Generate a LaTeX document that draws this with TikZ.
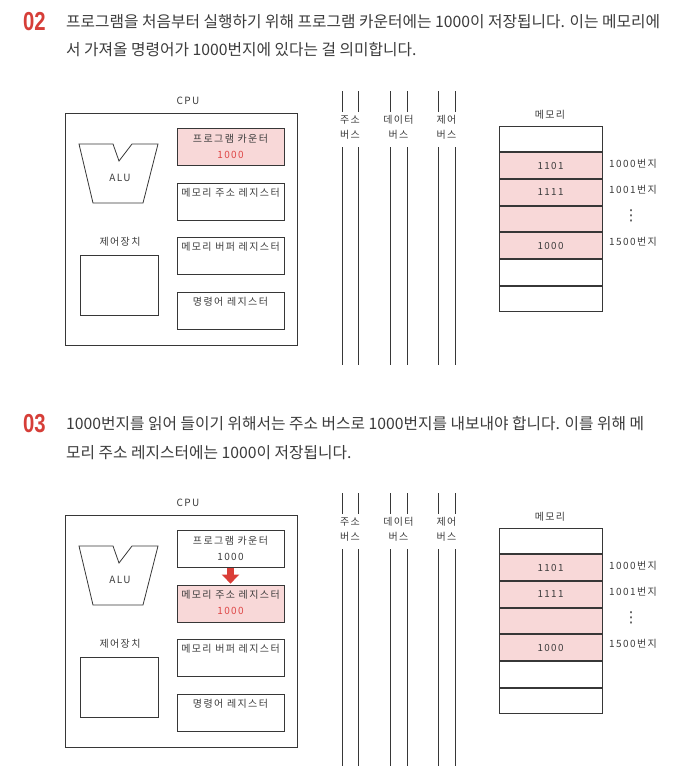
\documentclass[tikz,border=0pt]{standalone}
\usepackage{fontspec}
\usetikzlibrary{arrows.meta}
\setmainfont{Noto Sans CJK KR}
\newfontfamily\bodyf{Noto Sans CJK KR}
\newfontfamily\handf[LetterSpace=14]{Noto Sans CJK KR}
\newfontfamily\dotf{DejaVu Sans}
\newfontfamily\stepf[FakeStretch=0.78]{Liberation Sans}
\definecolor{linec}{RGB}{55,55,55}
\definecolor{txtc}{RGB}{60,60,60}
\definecolor{pinkc}{RGB}{248,216,216}
\definecolor{redt}{RGB}{222,70,70}
\definecolor{stepred}{RGB}{214,62,56}
\definecolor{arrowred}{RGB}{218,62,56}
\tikzset{
  box/.style={draw=linec, line width=0.8pt, inner sep=0pt},
  reg/.style={box, minimum width=107pt, minimum height=37pt},
  cell/.style={box, minimum width=103pt, minimum height=25.86pt, font=\handf\fontsize{9.8}{10}\selectfont, text=txtc},
  lab/.style={font=\handf\fontsize{10}{11}\selectfont, text=txtc, inner sep=0pt},
  redlab/.style={lab, text=redt},
  dots/.style={font=\dotf\fontsize{15}{15}\selectfont, text=txtc, inner sep=0pt},
  para/.style={font=\bodyf\fontsize{15.75}{17}\selectfont, text=txtc, anchor=west, inner sep=0pt},
  stepno/.style={font=\stepf\bfseries\fontsize{26}{27}\selectfont, text=stepred, anchor=west, inner sep=0pt},
  busline/.style={draw=linec, line width=0.8pt},
  bigarrow/.style={draw=arrowred, line width=6.5pt, -{Triangle[width=17pt,length=9pt]}},
}
\begin{document}
\begin{tikzpicture}[x=1pt,y=-1pt]
\useasboundingbox (0,0) rectangle (699,782);
\fill[white] (0,0) rectangle (699,782);

% ---------- Stage 02 ----------
\node[stepno] (n02) at (23,22) {02};
\node[para] (t02a) at (66,22) {프로그램을 처음부터 실행하기 위해 프로그램 카운터에는 1000이 저장됩니다. 이는 메모리에};
\node[para] (t02b) at (66,50) {서 가져올 명령어가 1000번지에 있다는 걸 의미합니다.};

\begin{scope}
  \node[lab] (acpul) at (188,101) {CPU};
  \node[box, minimum width=232pt, minimum height=232pt] (acpu) at (181.5,229) {};
  \node[reg, fill=pinkc] (apc) at (230.5,146.5) {};
  \node[lab] (apct) at ([yshift=-11pt]apc.north) {프로그램 카운터};
  \node[redlab] (apcv) at ([yshift=-27pt]apc.north) {1000};
  \node[reg] (amar) at (230.5,201.5) {};
  \node[lab] (amart) at ([yshift=-10pt]amar.north) {메모리 주소 레지스터};
  \node[reg] (ambr) at (230.5,256) {};
  \node[lab] (ambrt) at ([yshift=-10pt]ambr.north) {메모리 버퍼 레지스터};
  \node[reg] (air) at (230.5,310.5) {};
  \node[lab] (airt) at ([yshift=-10pt]air.north) {명령어 레지스터};
  \draw[draw=linec, line width=0.8pt] (79,144) -- (113,144) -- (119,161) -- (132,144) -- (158,144) -- (143,203) -- (93,203) -- cycle;
  \node[lab] (aalu) at (120,178) {ALU};
  \node[lab] (acul) at (120,242) {제어장치};
  \node[box, minimum width=78pt, minimum height=60pt] (acu) at (119,285) {};
  % buses
  \foreach \x in {342,358,390,407,438,455} {
    \draw[busline] (\x,91) -- (\x,112);
    \draw[busline] (\x,147) -- (\x,365);
  }
  \node[lab] (ab1a) at (350,120) {주소};
  \node[lab] (ab1b) at (350,135) {버스};
  \node[lab] (ab2a) at (398.5,120) {데이터};
  \node[lab] (ab2b) at (398.5,135) {버스};
  \node[lab] (ab3a) at (446.5,120) {제어};
  \node[lab] (ab3b) at (446.5,135) {버스};
  % memory
  \node[lab] (ameml) at (550,115) {메모리};
  \node[cell] (am1) at (550.5,138.9) {};
  \node[cell, fill=pinkc, anchor=north] (am2) at (am1.south) {1101};
  \node[cell, fill=pinkc, anchor=north] (am3) at (am2.south) {1111};
  \node[cell, fill=pinkc, anchor=north] (am4) at (am3.south) {};
  \node[cell, fill=pinkc, anchor=north] (am5) at (am4.south) {1000};
  \node[cell, anchor=north] (am6) at (am5.south) {};
  \node[cell, anchor=north] (am7) at (am6.south) {};
  \node[lab] (aad1) at (633,164) {1000번지};
  \node[lab] (aad2) at (633,190) {1001번지};
  \node[dots] (aad3) at (631,216) {⋮};
  \node[lab] (aad4) at (633,242) {1500번지};
\end{scope}

% ---------- Stage 03 ----------
\node[stepno] (n03) at (23,424) {03};
\node[para] (t03a) at (66,424) {1000번지를 읽어 들이기 위해서는 주소 버스로 1000번지를 내보내야 합니다. 이를 위해 메};
\node[para] (t03b) at (66,453) {모리 주소 레지스터에는 1000이 저장됩니다.};

\begin{scope}[shift={(0,402)}]
  \node[lab] (bcpul) at (188,101) {CPU};
  \node[box, minimum width=232pt, minimum height=232pt] (bcpu) at (181.5,229) {};
  \node[reg] (bpc) at (230.5,146.5) {};
  \node[lab] (bpct) at ([yshift=-11pt]bpc.north) {프로그램 카운터};
  \node[lab] (bpcv) at ([yshift=-27pt]bpc.north) {1000};
  \node[reg, fill=pinkc] (bmar) at (230.5,201.5) {};
  \node[lab] (bmart) at ([yshift=-10pt]bmar.north) {메모리 주소 레지스터};
  \node[redlab] (bmarv) at ([yshift=-26pt]bmar.north) {1000};
  \draw[bigarrow] ([yshift=-1pt]bpc.south) -- ([yshift=1pt]bmar.north);
  \node[reg] (bmbr) at (230.5,256) {};
  \node[lab] (bmbrt) at ([yshift=-10pt]bmbr.north) {메모리 버퍼 레지스터};
  \node[reg] (bir) at (230.5,310.5) {};
  \node[lab] (birt) at ([yshift=-10pt]bir.north) {명령어 레지스터};
  \draw[draw=linec, line width=0.8pt] (79,144) -- (113,144) -- (119,161) -- (132,144) -- (158,144) -- (143,203) -- (93,203) -- cycle;
  \node[lab] (balu) at (120,178) {ALU};
  \node[lab] (bcul) at (120,242) {제어장치};
  \node[box, minimum width=78pt, minimum height=60pt] (bcu) at (119,285) {};
  \foreach \x in {342,358,390,407,438,455} {
    \draw[busline] (\x,91) -- (\x,112);
    \draw[busline] (\x,147) -- (\x,364);
  }
  \node[lab] (bb1a) at (350,120) {주소};
  \node[lab] (bb1b) at (350,135) {버스};
  \node[lab] (bb2a) at (398.5,120) {데이터};
  \node[lab] (bb2b) at (398.5,135) {버스};
  \node[lab] (bb3a) at (446.5,120) {제어};
  \node[lab] (bb3b) at (446.5,135) {버스};
  \node[lab] (bmeml) at (550,115) {메모리};
  \node[cell] (bm1) at (550.5,138.9) {};
  \node[cell, fill=pinkc, anchor=north] (bm2) at (bm1.south) {1101};
  \node[cell, fill=pinkc, anchor=north] (bm3) at (bm2.south) {1111};
  \node[cell, fill=pinkc, anchor=north] (bm4) at (bm3.south) {};
  \node[cell, fill=pinkc, anchor=north] (bm5) at (bm4.south) {1000};
  \node[cell, anchor=north] (bm6) at (bm5.south) {};
  \node[cell, anchor=north] (bm7) at (bm6.south) {};
  \node[lab] (bad1) at (633,164) {1000번지};
  \node[lab] (bad2) at (633,190) {1001번지};
  \node[dots] (bad3) at (631,216) {⋮};
  \node[lab] (bad4) at (633,242) {1500번지};
\end{scope}
\end{tikzpicture}
\end{document}
